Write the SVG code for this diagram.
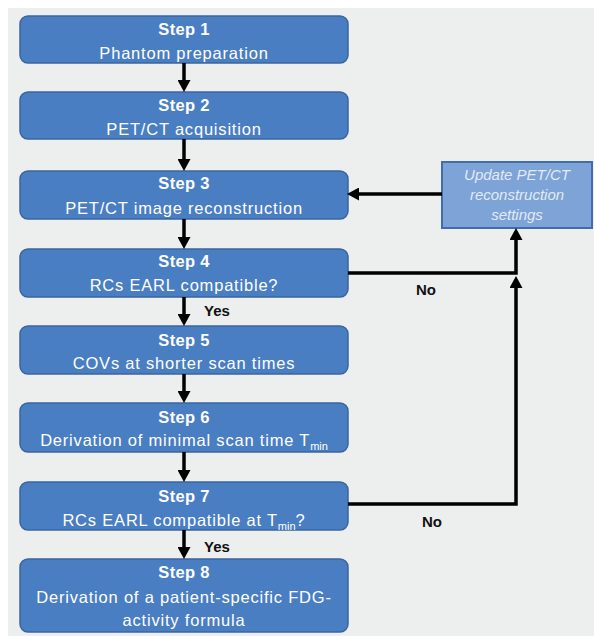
<svg xmlns="http://www.w3.org/2000/svg" width="594" height="636" viewBox="0 0 594 636">
<defs>
<style>
.step rect{fill:#4a7ec2;stroke:#3a659f;stroke-width:1.5}
.t{font-family:"Liberation Sans",Arial,sans-serif;fill:#fff;text-anchor:middle}
.h{font-size:16.5px;font-weight:bold;letter-spacing:0.3px}
.b{font-size:16.5px;letter-spacing:0.8px}
.u{font-family:"Liberation Sans",Arial,sans-serif;font-size:15px;font-style:italic;fill:#e2eaf5;text-anchor:middle}
.lbl{font-family:"Liberation Sans",Arial,sans-serif;font-size:15px;font-weight:bold;fill:#111}
.c{fill:none;stroke:#000;stroke-width:3.5;marker-end:url(#ah)}
</style>
<marker id="ah" markerUnits="userSpaceOnUse" viewBox="0 0 12 13" refX="2" refY="6.5" markerWidth="12" markerHeight="13" orient="auto">
<path d="M0,0 L12,6.5 L0,13 z" fill="#000"/>
</marker>
</defs>
<rect x="8" y="8" width="586" height="628" fill="#edeeee"/>

<g id="step1" class="step"><rect x="20" y="16" width="328" height="47" rx="8"/>
<text class="t h" x="184" y="35">Step 1</text><text class="t b" x="184" y="59">Phantom preparation</text></g>
<g id="step2" class="step"><rect x="20" y="92" width="328" height="47" rx="8"/>
<text class="t h" x="184" y="111">Step 2</text><text class="t b" x="184" y="135">PET/CT acquisition</text></g>
<g id="step3" class="step"><rect x="20" y="171" width="328" height="48" rx="8"/>
<text class="t h" x="184" y="189">Step 3</text><text class="t b" x="184" y="214">PET/CT image reconstruction</text></g>
<g id="step4" class="step"><rect x="20" y="249" width="328" height="48" rx="8"/>
<text class="t h" x="184" y="267">Step 4</text><text class="t b" x="184" y="291">RCs EARL compatible?</text></g>
<g id="step5" class="step"><rect x="20" y="326" width="328" height="48" rx="8"/>
<text class="t h" x="184" y="346">Step 5</text><text class="t b" x="184" y="369">COVs at shorter scan times</text></g>
<g id="step6" class="step"><rect x="20" y="403" width="328" height="49" rx="8"/>
<text class="t h" x="184" y="423">Step 6</text><text class="t b" x="184" y="446">Derivation of minimal scan time T<tspan dy="4" font-size="11" letter-spacing="0">min</tspan></text></g>
<g id="step7" class="step"><rect x="20" y="482" width="328" height="48" rx="8"/>
<text class="t h" x="184" y="502">Step 7</text><text class="t b" x="184" y="526">RCs EARL compatible at T<tspan dy="4" font-size="11" letter-spacing="0">min</tspan><tspan dy="-4">?</tspan></text></g>
<g id="step8" class="step"><rect x="20" y="559" width="328" height="73" rx="8"/>
<text class="t h" x="184" y="578">Step 8</text><text class="t b" x="184" y="603">Derivation of a patient-specific FDG-</text><text class="t b" x="184" y="626">activity formula</text></g>

<g id="update"><rect x="442" y="162" width="150" height="66" fill="#7ea3d6" stroke="#3f6db0" stroke-width="2"/>
<text class="u" x="517" y="180">Update PET/CT</text><text class="u" x="517" y="200">reconstruction</text><text class="u" x="517" y="220">settings</text></g>

<g id="connectors">
<path class="c" d="M184,63 V82"/>
<path class="c" d="M184,139 V161"/>
<path class="c" d="M184,219 V239"/>
<path class="c" d="M184,297 V316"/>
<path class="c" d="M184,374 V393"/>
<path class="c" d="M184,452 V472"/>
<path class="c" d="M184,530 V549"/>
<path class="c" d="M442,194 H357"/>
<path class="c" d="M348,273 H516 V238"/>
<path class="c" d="M348,504 H516 V286"/>
<text class="lbl" x="204" y="316">Yes</text>
<text class="lbl" x="204" y="552">Yes</text>
<text class="lbl" x="416" y="295">No</text>
<text class="lbl" x="422" y="527">No</text>
</g>
</svg>
